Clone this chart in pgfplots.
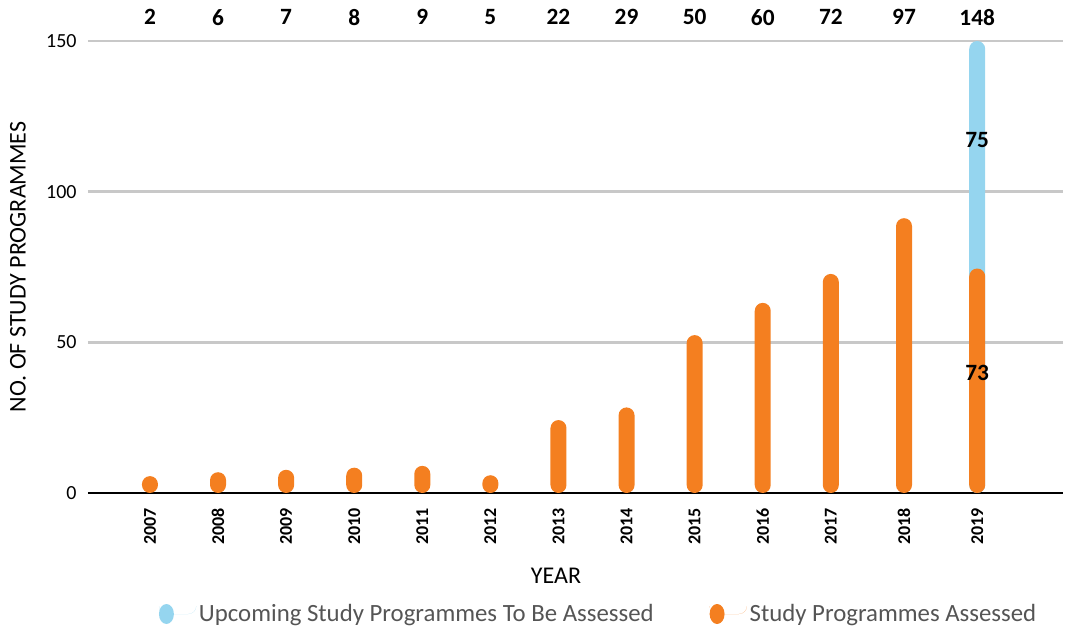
\documentclass[border=0pt]{standalone}
\usepackage{fontspec}
\setmainfont{Carlito}
\usepackage{pgfplots}
\pgfplotsset{compat=1.18}
\definecolor{barorange}{HTML}{F47F20}
\definecolor{barblue}{HTML}{95D5EF}
\definecolor{gridgray}{HTML}{C8C8C8}
\definecolor{legtext}{HTML}{555555}
\begin{document}
\begin{tikzpicture}
\useasboundingbox (-66pt,-103.5pt) rectangle (734.25pt,369.75pt);
\begin{axis}[
  at={(0,0)}, anchor=south west,
  scale only axis, width=731.25pt, height=339pt,
  xmin=-0.91, xmax=13.41, ymin=0, ymax=150,
  clip=false,
  axis line style={draw=none},
  major tick length=0pt,
  ytick={0,50,100,150},
  ymajorgrids, grid style={gridgray, line width=1.8pt},
  extra y ticks={0}, extra y tick labels={},
  extra y tick style={grid style={black, line width=1.6pt}},
  xtick={0,1,2,3,4,5,6,7,8,9,10,11.075,12.15},
  xticklabels={2007,2008,2009,2010,2011,2012,2013,2014,2015,2016,2017,2018,2019},
  xticklabel style={rotate=90, anchor=east, font=\bfseries\fontsize{13.5}{13.5}\selectfont, xshift=-8pt},
  yticklabel style={font=\fontsize{15}{15}\selectfont, xshift=-5pt},
  /pgf/number format/assume math mode=true,
  xlabel={YEAR},
  xlabel style={at={(axis description cs:0.48,-0.1836)}, anchor=center, font=\fontsize{18}{18}\selectfont},
  ylabel={NO. OF STUDY PROGRAMMES},
  ylabel style={at={(axis description cs:-0.0718,0.5)}, anchor=center, font=\fontsize{18}{18}\selectfont},
  legend style={at={(0.524,-0.2677)}, anchor=center, draw=none, fill=none,
    font=\fontsize{18.6}{18.6}\selectfont\color{legtext},
    /tikz/every even column/.append style={column sep=40pt}},
  legend columns=2,
]
\addplot[ybar, bar width=12pt, bar shift=0pt, fill=barblue, draw=none, rounded corners=6pt,
  legend image code/.code={\path (0,0) rectangle (28pt,0pt);\fill[barblue] (5.6pt,0pt) ellipse [x radius=5.6pt, y radius=7.5pt];}]
  coordinates {(12.15,150)};
\addlegendentry{Upcoming Study Programmes To Be Assessed}
\addplot[ybar, bar width=12pt, bar shift=0pt, fill=barorange, draw=none, rounded corners=6pt,
  legend image code/.code={\path (0,0) rectangle (28pt,0pt);\fill[barorange] (5.6pt,0pt) ellipse [x radius=5.6pt, y radius=7.5pt];}]
  coordinates {(0,5.6) (1,6.9) (2,7.7) (3,8.4) (4,9.0) (5,5.9) (6,24.2) (7,28.4) (8,52.4) (9,63.1) (10,72.7) (11.075,91.2) (12.15,74.5)};
\addlegendentry{Study Programmes Assessed}
\begin{scope}[every node/.style={font=\bfseries\fontsize{17.5}{17.5}\selectfont}]
\node at (axis cs:0,157.9) {2};
\node at (axis cs:1,157.9) {6};
\node at (axis cs:2,157.9) {7};
\node at (axis cs:3,157.9) {8};
\node at (axis cs:4,157.9) {9};
\node at (axis cs:5,157.9) {5};
\node at (axis cs:6,157.9) {22};
\node at (axis cs:7,157.9) {29};
\node at (axis cs:8,157.9) {50};
\node at (axis cs:9,157.9) {60};
\node at (axis cs:10,157.9) {72};
\node at (axis cs:11.075,157.9) {97};
\node at (axis cs:12.15,157.9) {148};
\node at (axis cs:12.15,117) {75};
\node at (axis cs:12.15,40) {73};
\end{scope}
\end{axis}
\end{tikzpicture}
\end{document}
